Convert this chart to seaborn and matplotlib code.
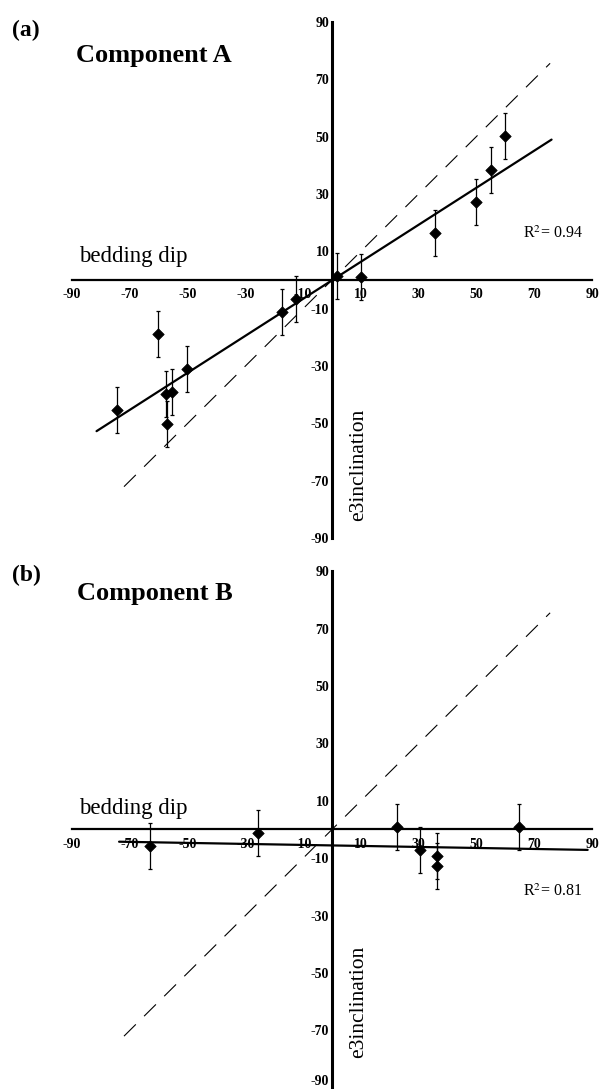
import numpy as np
import matplotlib
matplotlib.use("Agg")
import matplotlib.pyplot as plt
import seaborn as sns

# ---------------- data ----------------
tick_values = [-90, -70, -50, -30, -10, 10, 30, 50, 70, 90]
tick_labels = ["-90", "-70", "-50", "-30", "-10", "10", "30", "50", "70", "90"]

# Component A : bedding dip vs e3 inclination
a_dip = [-74.5, -60.3, -57.4, -57.2, -55.3, -50.3, -17.4, -12.6, 1.6, 10.0, 35.6, 49.8, 54.9, 59.9]
a_inc = [-45.3, -18.9, -39.7, -50.3, -39.1, -31.1, -11.0, -6.7, 1.4, 1.2, 16.3, 27.3, 38.3, 50.3]
a_err = [8, 8, 8, 8, 8, 8, 8, 8, 8, 8, 8, 8, 8, 8]
a_fit_slope = 0.645
a_fit_intercept = -0.1
a_fit_range = [-81.5, 76.0]
a_r2 = "0.94"

# Component B
b_dip = [-63.0, -25.5, 22.4, 30.5, 36.5, 36.5, 64.6]
b_inc = [-5.6, -1.3, 1.0, -7.1, -9.1, -12.7, 1.0]
b_err = [8, 8, 8, 8, 8, 8, 8]
b_fit_slope = -0.0176
b_fit_intercept = -5.55
b_fit_range = [-73.7, 88.5]
b_r2 = "0.81"

# 1:1 reference line
ref_range = [-72.0, 75.5]

# ---------------- style ----------------
sns.set_theme(style="white")
plt.rcParams["font.family"] = ["Liberation Serif", "DejaVu Serif"]
plt.rcParams["mathtext.fontset"] = "stix"
plt.rcParams["text.color"] = "black"
plt.rcParams["xtick.color"] = "black"
plt.rcParams["ytick.color"] = "black"

W, H = 605, 1089
fig = plt.figure(figsize=(W / 100, H / 100), dpi=100)
fig.patch.set_facecolor("white")


def panel(ax, dip, inc, err, slope, intercept, fit_range, r2, r2_y, bed_y, inc_y,
          lift_bottom_label=False):
    ax.set_xlim(-90, 90)
    ax.set_ylim(-90, 90)
    ax.set_facecolor("none")
    for s in ["top", "right"]:
        ax.spines[s].set_visible(False)
    ax.spines["left"].set_position(("data", 0))
    ax.spines["bottom"].set_position(("data", 0))
    ax.spines["left"].set_linewidth(2.2)
    ax.spines["bottom"].set_linewidth(1.6)
    ax.spines["left"].set_color("black")
    ax.spines["bottom"].set_color("black")

    ax.set_xticks(tick_values)
    ax.set_xticklabels(tick_labels)
    ax.set_yticks(tick_values)
    ax.set_yticklabels(tick_labels)
    ax.tick_params(axis="x", direction="in", length=2.5, width=0.8, pad=6,
                   labelsize=10, colors="black")
    ax.tick_params(axis="y", direction="in", length=2.5, width=0.8, pad=2,
                   labelsize=10, colors="black")
    for lab in ax.get_xticklabels() + ax.get_yticklabels():
        lab.set_fontweight("bold")
    if lift_bottom_label:
        ax.get_yticklabels()[0].set_va("bottom")

    # 1:1 dashed line
    rx = np.array(ref_range)
    sns.lineplot(x=rx, y=rx, ax=ax, color="black", lw=0.8,
                 linestyle=(0, (15, 10.5)), zorder=3)
    # regression line
    fx = np.array(fit_range)
    sns.lineplot(x=fx, y=slope * fx + intercept, ax=ax, color="black",
                 lw=1.6, zorder=3)
    # error bars + points
    ax.errorbar(dip, inc, yerr=err, fmt="none", ecolor="black",
                elinewidth=0.9, capsize=1.5, capthick=0.9, zorder=4)
    sns.scatterplot(x=dip, y=inc, ax=ax, marker="D", s=34, color="black",
                    edgecolor="black", linewidth=0.5, zorder=5)

    ax.text(66.1, r2_y, r"R$^{2}$= " + r2, fontsize=11.5, ha="left",
            va="baseline", color="black")
    ax.text(-87.5, bed_y, "bedding dip", fontsize=16.5, ha="left",
            va="baseline", color="black")
    ax.text(9.2, inc_y, "e3inclination", fontsize=15.5, rotation=90,
            ha="center", va="center", color="black")


axA = fig.add_axes([72 / W, 1 - 538.3 / H, 520 / W, 516.6 / H])
panel(axA, a_dip, a_inc, a_err, a_fit_slope, a_fit_intercept, a_fit_range,
      a_r2, r2_y=14.6, bed_y=6.3, inc_y=-64.5)

axB = fig.add_axes([72 / W, 1 - 1087.8 / H, 520 / W, 516.6 / H])
panel(axB, b_dip, b_inc, b_err, b_fit_slope, b_fit_intercept, b_fit_range,
      b_r2, r2_y=-23.2, bed_y=5.4, inc_y=-60.0, lift_bottom_label=True)

fig.text(12 / W, 1 - 36 / H, "(a)", fontsize=17, fontweight="bold",
         ha="left", va="baseline", color="black")
fig.text(76 / W, 1 - 61.7 / H, "Component A", fontsize=19, fontweight="bold",
         ha="left", va="baseline", color="black")
fig.text(12 / W, 1 - 580.7 / H, "(b)", fontsize=17, fontweight="bold",
         ha="left", va="baseline", color="black")
fig.text(77 / W, 1 - 600 / H, "Component B", fontsize=19, fontweight="bold",
         ha="left", va="baseline", color="black")

fig.savefig("out.png", dpi=100, facecolor="white")
